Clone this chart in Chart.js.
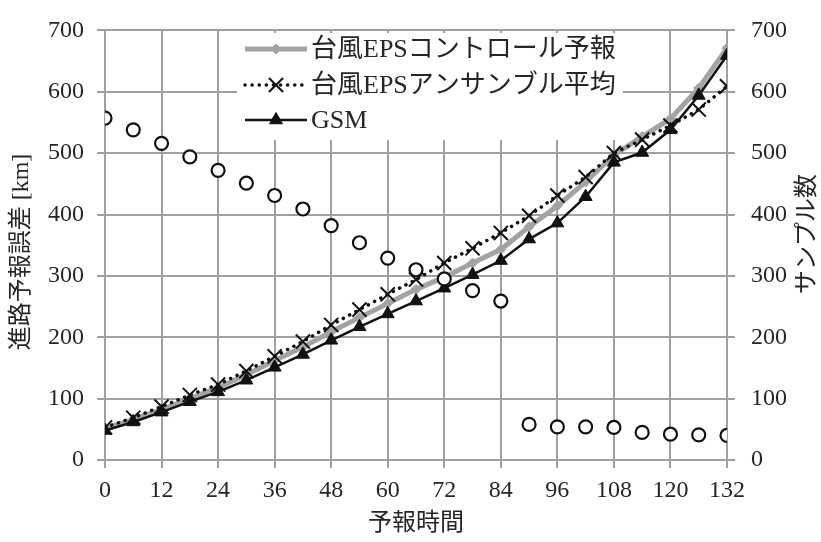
<!DOCTYPE html>
<html>
<head>
<meta charset="utf-8">
<script src="https://cdn.jsdelivr.net/npm/chart.js@4.4.0/dist/chart.umd.min.js"></script>
<style>
html,body{margin:0;padding:0;background:#fff;}
#wrap{width:821px;height:542px;position:relative;}
</style>
</head>
<body>
<div id="wrap"><canvas id="c" width="821" height="542"></canvas></div>
<script>
// ---- data ----
const hours = [0,6,12,18,24,30,36,42,48,54,60,66,72,78,84,90,96,102,108,114,120,126,132];
const controlErr  = [51,66,82,100,118,139,162,184,209,232,255,278,298,321,343,380,414,453,497,527,556,606,671];
const ensembleErr = [53,69,87,106,123,145,169,193,220,245,270,294,321,345,370,398,431,461,500,522,545,571,609];
const gsmErr      = [48,62,78,95,111,130,151,172,195,217,238,259,280,302,325,360,386,429,485,501,538,594,659];
const sampleCount = [557,538,516,494,472,451,431,409,382,354,329,310,295,276,259,58,54,54,53,45,42,41,40];
const xTickValues = [0,12,24,36,48,60,72,84,96,108,120,132];
const yTickValues = [0,100,200,300,400,500,600,700];
const seriesNames = ['台風EPSコントロール予報','台風EPSアンサンブル平均','GSM','サンプル数'];
const xTitle = '予報時間';
const yTitle = '進路予報誤差 [km]';
const y2Title = 'サンプル数';

// ---- styles ----
const FONT = "'Liberation Serif', 'Noto Sans CJK JP', serif";
const GRID = '#9da1a6';
const TEXT = '#262626';
const GREY = '#a3a3a3';
const BLACK = '#111111';

const pts = arr => hours.map((h, i) => ({x: h, y: arr[i]}));

const styles = [
  {color: GREY, width: 5, dash: [], pointStyle: 'rectRot', radius: 5, fill: GREY, bw: 1},
  {color: BLACK, width: 3.5, dash: [0.1, 7], pointStyle: 'crossRot', radius: 10, fill: BLACK, bw: 2},
  {color: BLACK, width: 2.5, dash: [], pointStyle: 'triangle', radius: 7.5, fill: BLACK, bw: 1}
];

const overlay = {
  id: 'overlay',
  beforeDatasetsDraw(chart) {
    const ctx = chart.ctx;
    ctx.save();
    // legend box
    ctx.fillStyle = '#fff';
    ctx.fillRect(237, 33, 386, 107);
    const rows = [49, 85, 120];
    for (let i = 0; i < 3; i++) {
      const s = styles[i], y = rows[i];
      ctx.save();
      ctx.strokeStyle = s.color;
      ctx.lineWidth = s.width;
      ctx.lineCap = s.dash.length ? 'round' : 'butt';
      ctx.setLineDash(s.dash);
      ctx.beginPath();
      ctx.moveTo(245, y);
      ctx.lineTo(307, y);
      ctx.stroke();
      ctx.restore();
      ctx.save();
      ctx.fillStyle = s.fill;
      ctx.strokeStyle = s.color;
      ctx.lineWidth = s.bw;
      Chart.helpers.drawPoint(ctx, {pointStyle: s.pointStyle, radius: s.radius, rotation: 0, borderWidth: s.bw}, 276, y);
      ctx.restore();
      ctx.fillStyle = TEXT;
      ctx.font = '26px ' + FONT;
      ctx.textAlign = 'left';
      ctx.textBaseline = 'middle';
      ctx.fillText(seriesNames[i], 311, y + 1);
    }
    ctx.restore();
  },
  afterDraw(chart) {
    const ctx = chart.ctx;
    const a = chart.chartArea;
    ctx.save();
    ctx.fillStyle = TEXT;
    ctx.font = '24px ' + FONT;
    ctx.textAlign = 'center';
    ctx.textBaseline = 'middle';
    ctx.fillText(xTitle, (a.left + a.right) / 2, 524);
    ctx.save();
    ctx.translate(22, 252);
    ctx.rotate(-Math.PI / 2);
    ctx.fillText(yTitle, 0, 0);
    ctx.restore();
    ctx.save();
    ctx.translate(808, 234);
    ctx.rotate(-Math.PI / 2);
    ctx.fillText(y2Title, 0, 0);
    ctx.restore();
    ctx.restore();
  }
};

new Chart(document.getElementById('c'), {
  type: 'line',
  data: {
    datasets: [
      {
        label: seriesNames[3], data: pts(sampleCount), yAxisID: 'y2',
        showLine: false, pointStyle: 'circle', pointRadius: 6.5,
        pointBackgroundColor: '#fff', pointBorderColor: BLACK, pointBorderWidth: 2.2,
        borderColor: BLACK, backgroundColor: '#fff'
      },
      {
        label: seriesNames[2], data: pts(gsmErr), yAxisID: 'y',
        borderColor: styles[2].color, borderWidth: styles[2].width,
        pointStyle: 'triangle', pointRadius: styles[2].radius,
        pointBackgroundColor: BLACK, pointBorderColor: BLACK, pointBorderWidth: 1
      },
      {
        label: seriesNames[1], data: pts(ensembleErr), yAxisID: 'y',
        borderColor: styles[1].color, borderWidth: styles[1].width,
        borderDash: styles[1].dash, borderCapStyle: 'round',
        pointStyle: 'crossRot', pointRadius: styles[1].radius,
        pointBorderColor: BLACK, pointBackgroundColor: BLACK, pointBorderWidth: 2
      },
      {
        label: seriesNames[0], data: pts(controlErr), yAxisID: 'y',
        borderColor: styles[0].color, borderWidth: styles[0].width,
        pointStyle: 'rectRot', pointRadius: styles[0].radius,
        pointBackgroundColor: GREY, pointBorderColor: GREY, pointBorderWidth: 1
      }
    ]
  },
  options: {
    responsive: false,
    animation: false,
    devicePixelRatio: 1,
    layout: {padding: {top: 20, left: 0, right: 0, bottom: 0}},
    plugins: {legend: {display: false}, tooltip: {enabled: false}},
    scales: {
      x: {
        type: 'linear', min: 0, max: 132,
        afterBuildTicks: s => { s.ticks = xTickValues.map(v => ({value: v})); },
        afterFit: s => { s.height = 82; },
        grid: {color: GRID, lineWidth: 2, tickLength: 8, tickColor: GRID},
        border: {color: GRID, width: 2},
        ticks: {color: TEXT, font: {family: FONT, size: 24}, padding: 8, maxRotation: 0, autoSkip: false}
      },
      y: {
        type: 'linear', position: 'left', min: 0, max: 700,
        afterBuildTicks: s => { s.ticks = yTickValues.map(v => ({value: v})); },
        afterFit: s => { s.width = 105; },
        grid: {color: GRID, lineWidth: 2, tickLength: 8, tickColor: GRID},
        border: {color: GRID, width: 2},
        ticks: {color: TEXT, font: {family: FONT, size: 24}, padding: 13}
      },
      y2: {
        type: 'linear', position: 'right', min: 0, max: 700,
        afterBuildTicks: s => { s.ticks = yTickValues.map(v => ({value: v})); },
        afterFit: s => { s.width = 94; },
        grid: {drawOnChartArea: false, color: GRID, lineWidth: 2, tickLength: 8, tickColor: GRID},
        border: {color: GRID, width: 2},
        ticks: {color: TEXT, font: {family: FONT, size: 24}, padding: 16}
      }
    }
  },
  plugins: [overlay]
});
</script>
</body>
</html>
